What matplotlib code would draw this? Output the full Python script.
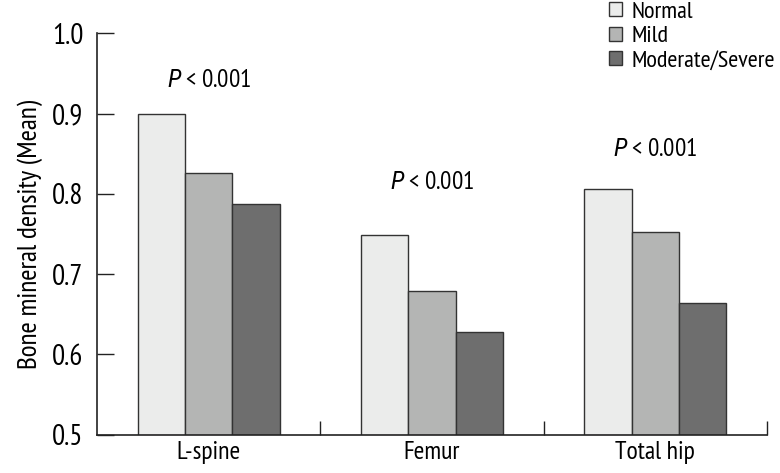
import matplotlib
matplotlib.use("Agg")
import matplotlib.pyplot as plt
from matplotlib.patches import Patch
from matplotlib import font_manager
import numpy as np

names = {f.name for f in font_manager.fontManager.ttflist}
prefs = ['PT Sans Narrow', 'Roboto Condensed', 'Roboto']
fam = [n for n in prefs if n in names][:1]
plt.rcParams['font.family'] = fam + ['DejaVu Sans']
plt.rcParams['mathtext.fontset'] = 'custom'
itfam = 'Roboto Condensed' if 'Roboto Condensed' in names else 'DejaVu Sans'
plt.rcParams['mathtext.it'] = itfam + ':italic'
plt.rcParams['mathtext.rm'] = fam[0] if fam else 'DejaVu Sans'

categories = ['L-spine', 'Femur', 'Total hip']
series = ['Normal', 'Mild', 'Moderate/Severe']
normal = [0.900, 0.749, 0.806]
mild = [0.826, 0.679, 0.753]
moderate = [0.787, 0.628, 0.664]
p_labels = ['P < 0.001', 'P < 0.001', 'P < 0.001']
p_y = [0.942, 0.814, 0.855]
yticks = [0.5, 0.6, 0.7, 0.8, 0.9, 1.0]

colors = ['#ebeceb', '#b4b5b4', '#6e6e6e']
edge = '#333333'

fig = plt.figure(figsize=(7.8, 4.73), dpi=100)
ax = fig.add_axes([97/780, 1-434.5/473, 670/780, 401/473])

x = np.arange(len(categories))
w = 0.212
for i, (vals, c, lab) in enumerate(zip([normal, mild, moderate], colors, series)):
    ax.bar(x + (i-1)*w, vals, width=w, color=c, edgecolor=edge, linewidth=1.0, label=lab)

ax.set_xlim(-0.5, 2.5)
ax.set_ylim(0.5, 1.0)
ax.set_yticks(yticks)
ax.set_yticklabels([f'{t:.1f}' for t in yticks])
ax.set_xticks(x)
ax.set_xticklabels(categories)
ax.tick_params(axis='x', length=0, labelsize=18.5, pad=5)
ax.set_xticks([0.5, 1.5, 2.5], minor=True)
ax.tick_params(axis='x', which='minor', direction='in', length=10, width=1, color='#222222')
ax.tick_params(axis='y', direction='in', length=12, width=1, labelsize=21, pad=10, color='#222222')
for s in ['top', 'right']:
    ax.spines[s].set_visible(False)
for s in ['left', 'bottom']:
    ax.spines[s].set_color('#222222')
    ax.spines[s].set_linewidth(1.2)
ax.set_ylabel('Bone mineral density (Mean)', fontsize=19.6, labelpad=6)

for xi, yi, t in zip(x, p_y, p_labels):
    ax.text(xi, yi, r'$\it{P}$' + t[1:], ha='center', va='center', fontsize=17.9)

handles = [Patch(facecolor=c, edgecolor=edge, linewidth=1.0) for c in colors]
fig.legend(handles, series, loc='upper left', bbox_to_anchor=(609/780, 1 - 2/473),
           frameon=False, fontsize=17.6, handlelength=0.52, handleheight=0.52,
           handletextpad=0.42, labelspacing=0.14, borderpad=0.0, borderaxespad=0.0)

fig.savefig('out.png', dpi=100)
